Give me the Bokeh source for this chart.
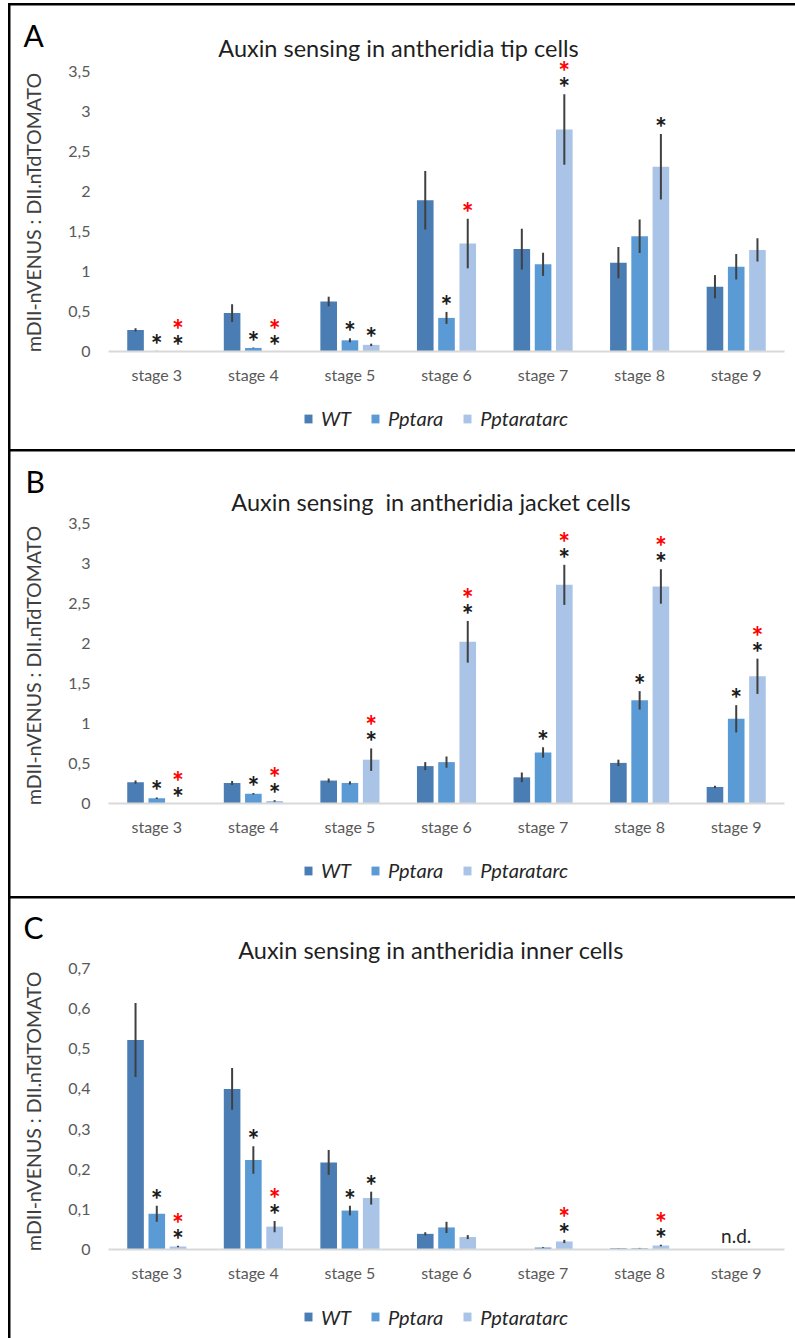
import numpy as np
from bokeh.plotting import figure
from bokeh.models import (ColumnDataSource, Range1d, FixedTicker,
                          CustomJSTickFormatter, Label, LabelSet, Legend, LegendItem)
from bokeh.core.properties import value
from bokeh.layouts import column
from bokeh.embed import file_html
from bokeh.resources import INLINE

NAN = float("nan")

stages = ["stage 3", "stage 4", "stage 5", "stage 6", "stage 7", "stage 8", "stage 9"]
series_names = ["WT", "Pptara", "Pptaratarc"]
colors = ["#4a7db4", "#5b9bd5", "#a9c4e6"]
y_label = "mDII-nVENUS : DII.nTdTOMATO"

# ---- Panel A: tip cells ----
tip_title = "Auxin sensing in antheridia tip cells"
tip_wt = [0.27, 0.48, 0.625, 1.89, 1.28, 1.11, 0.81]
tip_wt_err = [0.02, 0.11, 0.06, 0.365, 0.255, 0.195, 0.145]
tip_pptara = [0.005, 0.045, 0.14, 0.42, 1.09, 1.44, 1.06]
tip_pptara_err = [0.003, 0.005, 0.025, 0.075, 0.145, 0.21, 0.16]
tip_tarc = [0.0, 0.0, 0.083, 1.35, 2.775, 2.31, 1.27]
tip_tarc_err = [0.0, 0.0, 0.015, 0.31, 0.44, 0.41, 0.145]
tip_pptara_vs_wt = [1, 1, 1, 1, 0, 0, 0]
tip_tarc_vs_wt = [1, 1, 1, 0, 1, 1, 0]
tip_tarc_vs_pptara = [1, 1, 0, 1, 1, 0, 0]
tip_ticks = [0, 0.5, 1, 1.5, 2, 2.5, 3, 3.5]

# ---- Panel B: jacket cells ----
jacket_title = "Auxin sensing \u00a0in antheridia jacket cells"
jacket_wt = [0.27, 0.26, 0.29, 0.47, 0.33, 0.51, 0.21]
jacket_wt_err = [0.02, 0.025, 0.025, 0.05, 0.06, 0.04, 0.015]
jacket_pptara = [0.07, 0.125, 0.26, 0.52, 0.64, 1.29, 1.06]
jacket_pptara_err = [0.01, 0.01, 0.02, 0.07, 0.065, 0.115, 0.17]
jacket_tarc = [0.0, 0.035, 0.55, 2.02, 2.73, 2.71, 1.59]
jacket_tarc_err = [0.0, 0.01, 0.14, 0.26, 0.25, 0.215, 0.22]
jacket_pptara_vs_wt = [1, 1, 0, 0, 1, 1, 1]
jacket_tarc_vs_wt = [1, 1, 1, 1, 1, 1, 1]
jacket_tarc_vs_pptara = [1, 1, 1, 1, 1, 1, 1]
jacket_ticks = [0, 0.5, 1, 1.5, 2, 2.5, 3, 3.5]

# ---- Panel C: inner cells ----
inner_title = "Auxin sensing in antheridia inner cells"
inner_wt = [0.522, 0.40, 0.217, 0.039, 0.0, 0.003, NAN]
inner_wt_err = [0.092, 0.052, 0.031, 0.004, 0.0, 0.0005, NAN]
inner_pptara = [0.089, 0.223, 0.097, 0.055, 0.005, 0.003, NAN]
inner_pptara_err = [0.02, 0.034, 0.012, 0.014, 0.001, 0.001, NAN]
inner_tarc = [0.0075, 0.057, 0.128, 0.031, 0.02, 0.01, NAN]
inner_tarc_err = [0.002, 0.014, 0.016, 0.005, 0.004, 0.002, NAN]
inner_pptara_vs_wt = [1, 1, 1, 0, 0, 0, 0]
inner_tarc_vs_wt = [1, 1, 1, 0, 1, 1, 0]
inner_tarc_vs_pptara = [1, 1, 0, 0, 1, 1, 0]
inner_ticks = [0, 0.1, 0.2, 0.3, 0.4, 0.5, 0.6, 0.7]
inner_nd = ["", "", "", "", "", "", "n.d."]

FONT = "Lato"
offsets = [-0.22, 0.0, 0.22]
W = 785
LEFT_PX, RIGHT_PX = 98, 11          # space left/right of the category band


def make_panel(letter, title, layout_px, means, errs, pptara_vs_wt, tarc_vs_wt,
               tarc_vs_pptara, ticks, nd=None):
    (height, zero_px, unit_px, title_xy, letter_xy, ylabel_xy, legend_xy) = layout_px
    ncat = len(stages)
    cat_px = (W - LEFT_PX - RIGHT_PX) / ncat
    x_range = Range1d(-LEFT_PX / cat_px, ncat + RIGHT_PX / cat_px)
    y_range = Range1d(-(height - zero_px) / unit_px, zero_px / unit_px)
    p = figure(width=W, height=height, x_range=x_range, y_range=y_range,
               output_backend="svg", toolbar_location=None, min_border=0)
    p.title.visible = False
    p.outline_line_color = None
    p.xgrid.visible = False
    p.ygrid.visible = False
    p.background_fill_color = "white"
    p.border_fill_color = "white"

    xc = np.arange(ncat) + 0.5

    # y axis drawn at the start of the category band
    ya = p.yaxis[0]
    ya.fixed_location = 0
    ya.ticker = FixedTicker(ticks=ticks)
    ya.formatter = CustomJSTickFormatter(
        code="var s = (Math.round(tick*10)/10).toString(); return s.replace('.', ',');")
    ya.axis_line_color = None
    ya.major_tick_line_color = None
    ya.minor_tick_line_color = None
    ya.major_tick_out = 0
    ya.major_tick_in = 0
    ya.major_label_standoff = 18
    ya.major_label_text_font = FONT
    ya.major_label_text_font_size = "16px"
    ya.major_label_text_color = "#595959"

    # x axis at zero
    xa = p.xaxis[0]
    xa.fixed_location = 0
    xa.bounds = (0, ncat)
    xa.ticker = FixedTicker(ticks=list(xc))
    xa.major_label_overrides = {float(v): s for v, s in zip(xc, stages)}
    xa.axis_line_color = "#d9d9d9"
    xa.axis_line_width = 2
    xa.major_tick_line_color = None
    xa.minor_tick_line_color = None
    xa.major_tick_out = 0
    xa.major_tick_in = 0
    xa.major_label_standoff = 13
    xa.major_label_text_font = FONT
    xa.major_label_text_font_size = "16px"
    xa.major_label_text_color = "#595959"

    renderers = []
    for k in range(3):
        m = np.array(means[k], dtype=float)
        e = np.array(errs[k], dtype=float)
        src = ColumnDataSource(dict(x=xc + offsets[k], top=m, lo=m - e, hi=m + e))
        r = p.vbar(x="x", top="top", bottom=0, width=0.172, source=src,
                   fill_color=colors[k], line_color=None)
        renderers.append(r)
        p.segment(x0="x", y0="lo", x1="x", y1="hi", source=src,
                  line_color="#404040", line_width=2)

    # significance stars (black: vs WT, red: vs Pptara)
    flags = {1: [(pptara_vs_wt, "#1a1a1a")],
             2: [(tarc_vs_wt, "#1a1a1a"), (tarc_vs_pptara, "#ff0000")]}
    for k, lst in flags.items():
        m = np.array(means[k], dtype=float)
        e = np.array(errs[k], dtype=float)
        hi = np.nan_to_num(m + e)
        xs, ys, cs, yo = [], [], [], []
        for i in range(ncat):
            level = 0
            for fl, col in lst:
                if fl[i]:
                    xs.append(float(xc[i] + offsets[k]))
                    ys.append(float(hi[i]))
                    cs.append(col)
                    yo.append(-4 + 16 * level)
                    level += 1
        if xs:
            ssrc = ColumnDataSource(dict(x=xs, y=ys, c=cs, yo=yo, t=["*"] * len(xs)))
            p.add_layout(LabelSet(x="x", y="y", text="t", y_offset="yo", source=ssrc,
                                  text_color="c", text_align="center",
                                  text_baseline="alphabetic", text_font=value(FONT),
                                  text_font_size="28px", text_font_style="bold"))

    if nd is not None:
        nsrc = ColumnDataSource(dict(x=xc, y=np.zeros(ncat), t=nd))
        p.add_layout(LabelSet(x="x", y="y", text="t", source=nsrc, y_offset=3,
                              text_align="center", text_baseline="bottom",
                              text_font=value(FONT), text_font_size="19px",
                              text_color="#262626"))

    # title, panel letter, y-axis label
    p.add_layout(Label(x=title_xy[0], y=height - title_xy[1], x_units="screen", y_units="screen",
                       text=title, text_align="center", text_baseline="middle",
                       text_font=FONT, text_font_size="23.5px", text_color="#1f1f1f"))
    p.add_layout(Label(x=letter_xy[0], y=height - letter_xy[1], x_units="screen", y_units="screen",
                       text=letter, text_align="left", text_baseline="middle",
                       text_font=FONT, text_font_size="30px", text_color="#000000"))
    p.add_layout(Label(x=ylabel_xy[0], y=height - ylabel_xy[1], x_units="screen", y_units="screen",
                       text=y_label, angle=np.pi / 2, text_align="center",
                       text_baseline="middle", text_font=FONT, text_font_size="19.5px",
                       text_color="#404040"))

    legend = Legend(items=[LegendItem(label=n, renderers=[r]) for n, r in zip(series_names, renderers)],
                    orientation="horizontal", location=(legend_xy[0], height - legend_xy[1]),
                    label_text_font=FONT, label_text_font_style="italic",
                    label_text_font_size="20px", label_text_color="#262626",
                    glyph_width=10, glyph_height=11, label_standoff=8, spacing=19,
                    padding=0, margin=0, border_line_color=None,
                    background_fill_alpha=0)
    p.add_layout(legend)
    return p


# (height, zero line px, px per unit, title centre, letter left/centre, y-label centre, legend left/bottom)
pA = make_panel("A", tip_title,
                (444, 346, 80.0, (388, 42), (13, 29), (23, 207), (293, 425)),
                [tip_wt, tip_pptara, tip_tarc], [tip_wt_err, tip_pptara_err, tip_tarc_err],
                tip_pptara_vs_wt, tip_tarc_vs_wt, tip_tarc_vs_pptara, tip_ticks)
pB = make_panel("B", jacket_title,
                (445, 352.3, 80.2, (420.5, 50.7), (15, 29.5), (23, 214), (293, 431)),
                [jacket_wt, jacket_pptara, jacket_tarc],
                [jacket_wt_err, jacket_pptara_err, jacket_tarc_err],
                jacket_pptara_vs_wt, jacket_tarc_vs_wt, jacket_tarc_vs_pptara, jacket_ticks)
pC = make_panel("C", inner_title,
                (440, 351, 401.4, (420.5, 51.3), (13, 28), (23, 212.8), (293, 430.7)),
                [inner_wt, inner_pptara, inner_tarc],
                [inner_wt_err, inner_pptara_err, inner_tarc_err],
                inner_pptara_vs_wt, inner_tarc_vs_wt, inner_tarc_vs_pptara, inner_ticks,
                nd=inner_nd)

for pp in (pA, pB, pC):
    pp.margin = (2, 0, 0, 2)

layout = column(pA, pB, pC, spacing=0, margin=(3, 0, 0, 8),
                styles={"background-color": "black"})

open("out.html", "w").write(file_html(layout, INLINE))
